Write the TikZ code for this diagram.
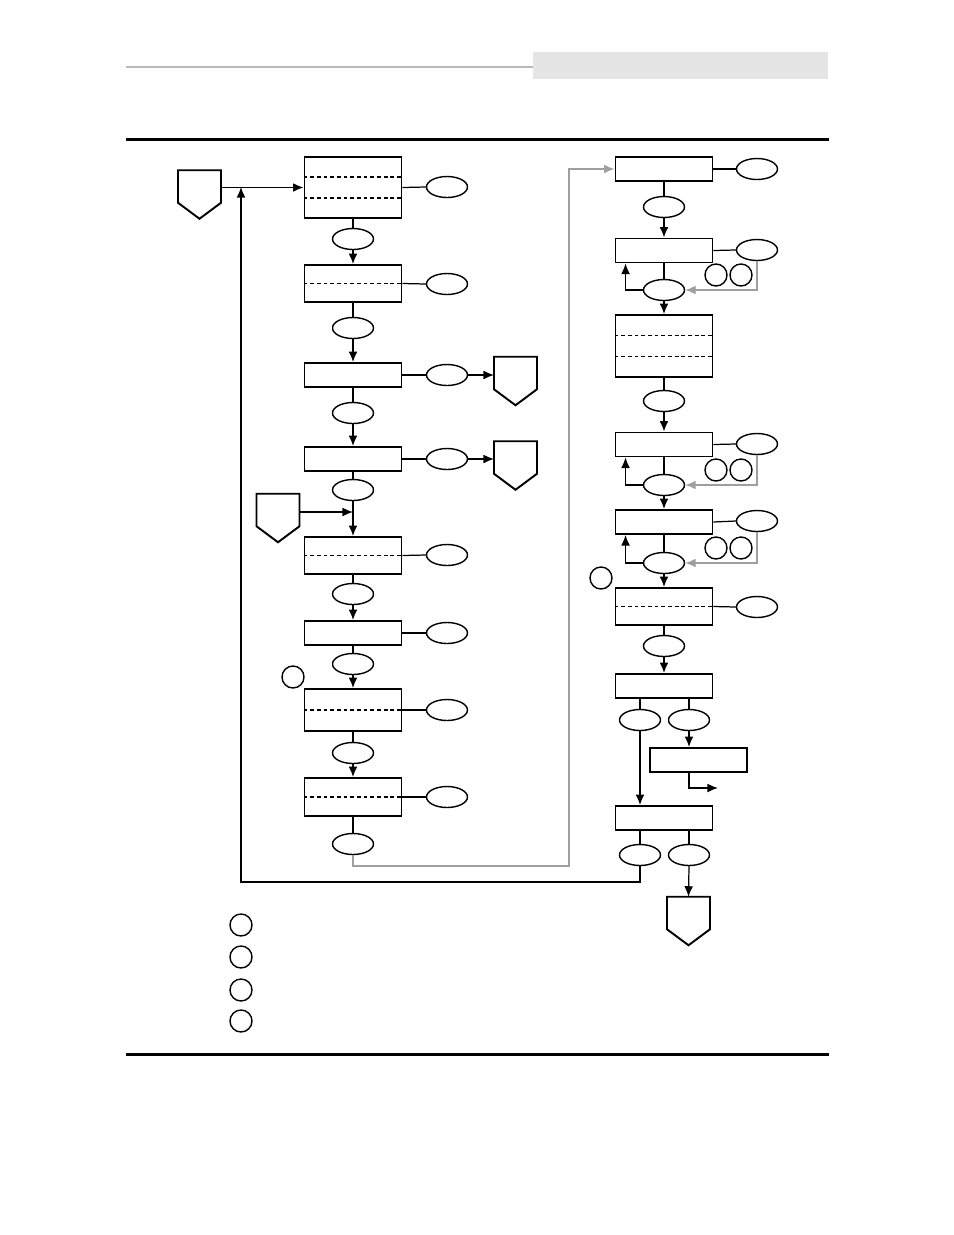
\documentclass[tikz,border=0pt]{standalone}
\usepackage{tikz}
\usetikzlibrary{calc,arrows.meta,shapes.geometric}

% off-page connector: name, x, y
\newcommand{\offpage}[3]{%
  \node[offpage] (#1) at (#2,#3) {};
  \draw[line width=1.1pt] (#1.north west) -- (#1.north east) --
    ([yshift=0.32cm]#1.south east) -- (#1.south) --
    ([yshift=0.32cm]#1.south west) -- cycle;}

\begin{document}
\begin{tikzpicture}[x=0.02cm, y=-0.02cm, line width=0.7pt,
    pbox/.style={draw, line width=1.1pt, minimum width=1.94cm,
      minimum height=0.48cm, inner sep=0pt},
    oval/.style={draw, ellipse, line width=0.8pt, minimum width=0.82cm,
      minimum height=0.42cm, inner sep=0pt},
    ring/.style={draw, circle, line width=0.8pt, minimum size=0.44cm,
      inner sep=0pt},
    offpage/.style={minimum width=0.86cm, minimum height=0.97cm,
      inner sep=0pt, outer sep=0pt},
    divider/.style={line width=0.6pt, dash pattern=on 2.2pt off 1.6pt},
    greyline/.style={draw=gray!75},
    arr/.style={-{Latex[length=6pt,width=5pt]}}]
  \useasboundingbox (0,0) rectangle (954,1235);

  % Header
  \draw[gray!55, line width=0.9pt] (126,67) -- (533,67);
  \fill[gray!20] (533,52) rectangle (828,79);
  \draw[line width=1.7pt] (126,139) -- (829,139);
  \draw[line width=1.7pt] (126,1054) -- (829,1054);

  % Left column
  \offpage{start}{199.5}{194.5}
  \node[pbox, minimum height=1.22cm] (L1) at (353,187.5) {};
  \node[oval] (L1r) at (447,187) {};
  \node[oval] (L1d) at (353,239) {};
  \node[pbox, minimum height=0.74cm] (L2) at (353,283.5) {};
  \node[oval] (L2r) at (447,284) {};
  \node[oval] (L2d) at (353,328) {};
  \node[pbox] (L3) at (353,375) {};
  \node[oval] (L3r) at (447,375) {};
  \offpage{exitA}{515.5}{381}
  \node[oval] (L3d) at (353,413) {};
  \node[pbox] (L4) at (353,459) {};
  \node[oval] (L4r) at (447,459) {};
  \offpage{exitB}{515.5}{465.5}
  \node[oval] (L4d) at (353,490) {};
  \offpage{entryC}{278}{518}
  \coordinate (merge) at (353,512);
  \node[pbox, minimum height=0.74cm] (L5) at (353,555.5) {};
  \node[oval] (L5r) at (447,555) {};
  \node[oval] (L5d) at (353,594) {};
  \node[pbox] (L6) at (353,633) {};
  \node[oval] (L6r) at (447,633) {};
  \node[oval] (L6d) at (353,664) {};
  \node[ring] (noteA) at (293,677) {};
  \node[pbox, minimum height=0.84cm] (L7) at (353,710) {};
  \node[oval] (L7r) at (447,710) {};
  \node[oval] (L7d) at (353,753) {};
  \node[pbox, minimum height=0.76cm] (L8) at (353,797) {};
  \node[oval] (L8r) at (447,797) {};
  \node[oval] (L8d) at (353,844) {};

  % Dividers
  \draw[divider] ($(L1.north west)!1/3!(L1.south west)$) -- ($(L1.north east)!1/3!(L1.south east)$);
  \draw[divider] ($(L1.north west)!2/3!(L1.south west)$) -- ($(L1.north east)!2/3!(L1.south east)$);
  \foreach \b in {L2,L5,L7,L8}
    \draw[divider] (\b.west) -- (\b.east);

  % Right column
  \node[pbox] (R1) at (664,169) {};
  \node[oval] (R1r) at (757,169) {};
  \node[oval] (R1d) at (664,207) {};
  \node[pbox] (R2) at (664,250.5) {};
  \node[oval] (R2r) at (757,250) {};
  \node[ring] (R2a) at (716,275) {};
  \node[ring] (R2b) at (741,275) {};
  \node[oval] (R2d) at (664,290) {};
  \node[pbox, minimum height=1.24cm] (R3) at (664,346) {};
  \node[oval] (R3d) at (664,401) {};
  \node[pbox] (R4) at (664,444.5) {};
  \node[oval] (R4r) at (757,444) {};
  \node[ring] (R4a) at (716,470) {};
  \node[ring] (R4b) at (741,470) {};
  \node[oval] (R4d) at (664,485) {};
  \node[pbox] (R5) at (664,522) {};
  \node[oval] (R5r) at (757,521) {};
  \node[ring] (R5a) at (716,548) {};
  \node[ring] (R5b) at (741,548) {};
  \node[oval] (R5d) at (664,563) {};
  \node[ring] (noteB) at (601,578) {};
  \node[pbox, minimum height=0.74cm] (R6) at (664,606.5) {};
  \node[oval] (R6r) at (757,607) {};
  \node[oval] (R6d) at (664,646) {};
  \node[pbox] (R7) at (664,686) {};
  \node[oval] (R7a) at (640,720) {};
  \node[oval] (R7b) at (689,720) {};
  \node[pbox] (R8) at (698.5,760) {};
  \coordinate (R8out) at (718,788);
  \node[pbox] (R9) at (664,818) {};
  \node[oval] (R9a) at (640,855) {};
  \node[oval] (R9b) at (689,855) {};
  \offpage{finish}{688.5}{921}

  \draw[divider] ($(R3.north west)!1/3!(R3.south west)$) -- ($(R3.north east)!1/3!(R3.south east)$);
  \draw[divider] ($(R3.north west)!2/3!(R3.south west)$) -- ($(R3.north east)!2/3!(R3.south east)$);
  \draw[divider] (R6.west) -- (R6.east);

  % Legend
  \foreach \y [count=\i] in {925,957,990,1021}
    \node[ring] (key\i) at (241,\y) {};

  % Connectors, left
  \coordinate (join) at (241,187);
  \coordinate (loopL) at (241,882);
  \coordinate (turn) at (569,866);
  \draw[arr] (start.east |- L1.west) -- (L1.west);
  \foreach \b/\n in {L1/L2,L2/L3,L3/L4,L5/L6,L6/L7,L7/L8} {
    \draw (\b.south) -- (\b d.north);
    \draw[arr] (\b d.south) -- (\n.north);
  }
  \draw (L4.south) -- (L4d.north);
  \draw[arr] (L4d.south) -- (L5.north);
  \draw[arr] (entryC.east |- merge) -- (merge);
  \draw (L8.south) -- (L8d.north);
  \foreach \b in {L1,L2,L3,L4,L5,L6,L7,L8}
    \draw (\b.east) -- (\b r.west);
  \draw[arr] (L3r.east) -- (L3r.east -| exitA.west);
  \draw[arr] (L4r.east) -- (L4r.east -| exitB.west);
  \draw[greyline, arr] (L8d.south) |- (turn) |- (R1.west);

  % Connectors, right
  \foreach \b/\n in {R1/R2,R2/R3,R3/R4,R4/R5,R5/R6,R6/R7} {
    \draw (\b.south) -- (\b d.north);
    \draw[arr] (\b d.south) -- (\n.north);
  }
  \foreach \b in {R1,R2,R4,R5,R6}
    \draw (\b.east) -- (\b r.west);
  \foreach \b in {R2,R4,R5} {
    \draw[greyline, arr] (\b r.south) |- (\b d.east);
    \draw[arr] (\b d.west) -| ([xshift=0.22cm]\b.south west);
  }
  \draw (R7a.north) -- (R7a.north |- R7.south);
  \draw (R7b.north) -- (R7b.north |- R7.south);
  \draw[arr] (R7b.south) -- (R7b.south |- R8.north);
  \draw[arr] (R7b.south |- R8.south) |- (R8out);
  \draw[arr] (R7a.south) -- (R7a.south |- R9.north);
  \draw (R9a.north) -- (R9a.north |- R9.south);
  \draw (R9b.north) -- (R9b.north |- R9.south);
  \draw[arr] (R9b.south) -- (finish.north);
  \draw[arr] (R9a.south) |- (loopL) -- (join);
\end{tikzpicture}
\end{document}
